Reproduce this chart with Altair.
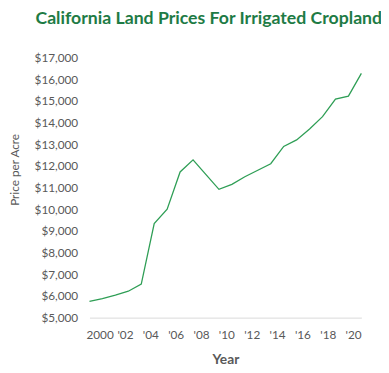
import altair as alt
import pandas as pd

years = list(range(1999, 2021))
prices = [5750, 5880, 6040, 6220, 6550, 9340, 10000, 11720, 12280, 11600,
          10920, 11150, 11500, 11800, 12100, 12900, 13200, 13700, 14270, 15080,
          15220, 16270]
x_ticks = [2000, 2002, 2004, 2006, 2008, 2010, 2012, 2014, 2016, 2018, 2020]
y_ticks = list(range(5000, 17001, 1000))

df = pd.DataFrame({"Year": years, "Price": prices})
df_ticks = pd.DataFrame({"Tick": x_ticks})

FONT = "Lato"
GRAY = "#595959"

y_enc = alt.Y("Price:Q",
              scale=alt.Scale(domain=[5000, 17000], nice=False, zero=False),
              axis=alt.Axis(values=y_ticks, format="$,.0f", title="Price per Acre",
                            grid=False, ticks=False, domain=False, labelOverlap=False,
                            labelFont=FONT, labelFontSize=12, labelColor=GRAY,
                            labelPadding=12, titleFont=FONT, titleFontSize=12,
                            titleFontWeight="normal", titleColor=GRAY,
                            titleY=114, titleX=-76, titleAlign="center",
                            titleBaseline="middle"))

line = alt.Chart(df).mark_line(color="#2E9E55", strokeWidth=1.3).encode(
    x=alt.X("Year:Q",
            scale=alt.Scale(domain=[1999, 2020], nice=False, zero=False),
            axis=None),
    y=y_enc,
)

axis_layer = alt.Chart(df_ticks).mark_point(opacity=0).encode(
    x=alt.X("Tick:Q",
            scale=alt.Scale(domain=[1999.2, 2020.65], nice=False, zero=False),
            axis=alt.Axis(values=x_ticks, title="Year", orient="bottom",
                          grid=False, ticks=False, labelOverlap=False,
                          domain=True, domainColor="#d9d9d9", domainWidth=1,
                          labelExpr="datum.value == 2000 ? '2000' : \"'\" + substring(toString(datum.value), 2, 4)",
                          labelFont=FONT, labelFontSize=12, labelColor=GRAY,
                          labelPadding=12, titleFont=FONT, titleFontSize=14,
                          titleFontWeight="bold", titleColor=GRAY, titlePadding=13)),
)

chart = alt.layer(line, axis_layer).resolve_scale(x="independent").properties(
    width=277,
    height=265,
    title=alt.TitleParams("California Land Prices For Irrigated Cropland",
                          font=FONT, fontSize=18, fontWeight="bold",
                          color="#1E7B45", anchor="start", frame="group",
                          dx=-55, offset=24),
    autosize=alt.AutoSizeParams(type="none"),
    padding={"left": 83, "top": 47, "right": 20, "bottom": 55},
).configure_view(stroke=None)

chart.save("out.html", embed_options={"renderer": "svg", "actions": False})
